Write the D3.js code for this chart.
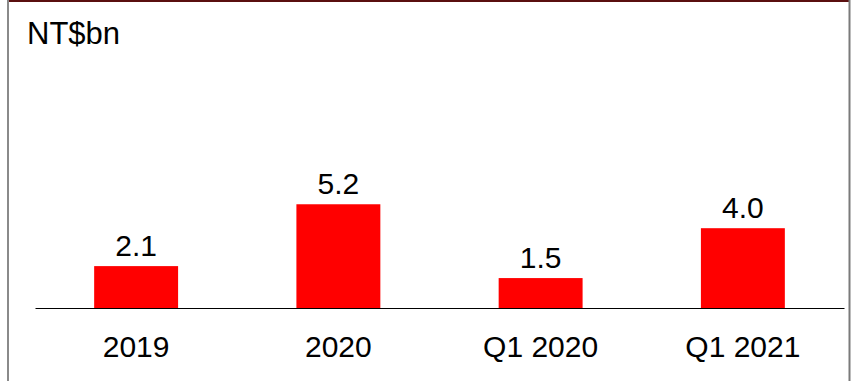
<!DOCTYPE html>
<html>
<head>
<meta charset="utf-8">
<script src="https://cdn.jsdelivr.net/npm/d3@7"></script>
<style>
  html, body { margin: 0; padding: 0; background: #fff; }
  svg { display: block; }
  text { font-family: "Liberation Sans", Arial, sans-serif; fill: #000; }
</style>
</head>
<body>
<svg id="chart" width="851" height="381"></svg>
<script>
const categories = ["2019", "2020", "Q1 2020", "Q1 2021"];
const values = [2.1, 5.2, 1.5, 4.0];
const valueLabels = ["2.1", "5.2", "1.5", "4.0"];
const unitLabel = "NT$bn";

const svg = d3.select("#chart");
const W = 851, H = 381;

// frame
svg.append("line").attr("x1", 8).attr("x2", 849).attr("y1", 1).attr("y2", 1)
  .attr("stroke", "#5a0f0f").attr("stroke-width", 2);
svg.append("line").attr("x1", 8).attr("x2", 8).attr("y1", 0).attr("y2", H)
  .attr("stroke", "#8a8a8a").attr("stroke-width", 2);
svg.append("line").attr("x1", 849.5).attr("x2", 849.5).attr("y1", 0).attr("y2", H)
  .attr("stroke", "#7a7a7a").attr("stroke-width", 2);

const baseY = 308;
const x = d3.scaleBand().domain(categories).range([35, 844])
  .paddingInner(0.585).paddingOuter(0.2925);
const y = d3.scaleLinear().domain([0, 1]).range([baseY, baseY - 19.95]);

svg.selectAll("rect.bar").data(values).join("rect")
  .attr("class", "bar")
  .attr("x", (d, i) => x(categories[i]))
  .attr("width", x.bandwidth())
  .attr("y", d => y(d))
  .attr("height", d => baseY - y(d))
  .attr("fill", "#ff0000");

// x axis
const axis = svg.append("g").attr("transform", `translate(0,${baseY})`)
  .call(d3.axisBottom(x).tickSize(0).tickSizeOuter(0).tickPadding(0));
axis.select(".domain").attr("stroke", "#000").attr("stroke-width", 1.2);
axis.selectAll("text").attr("font-size", 30)
  .attr("font-family", "'Liberation Sans', Arial, sans-serif")
  .attr("fill", "#000").attr("dy", null).attr("y", 48.5);

svg.selectAll("text.val").data(values).join("text")
  .attr("class", "val")
  .attr("x", (d, i) => x(categories[i]) + x.bandwidth() / 2)
  .attr("y", d => y(d) - 10)
  .attr("text-anchor", "middle")
  .attr("font-size", 30)
  .text((d, i) => valueLabels[i]);

svg.append("text").attr("x", 27).attr("y", 43.5)
  .attr("font-size", 31).text(unitLabel);
</script>
</body>
</html>
